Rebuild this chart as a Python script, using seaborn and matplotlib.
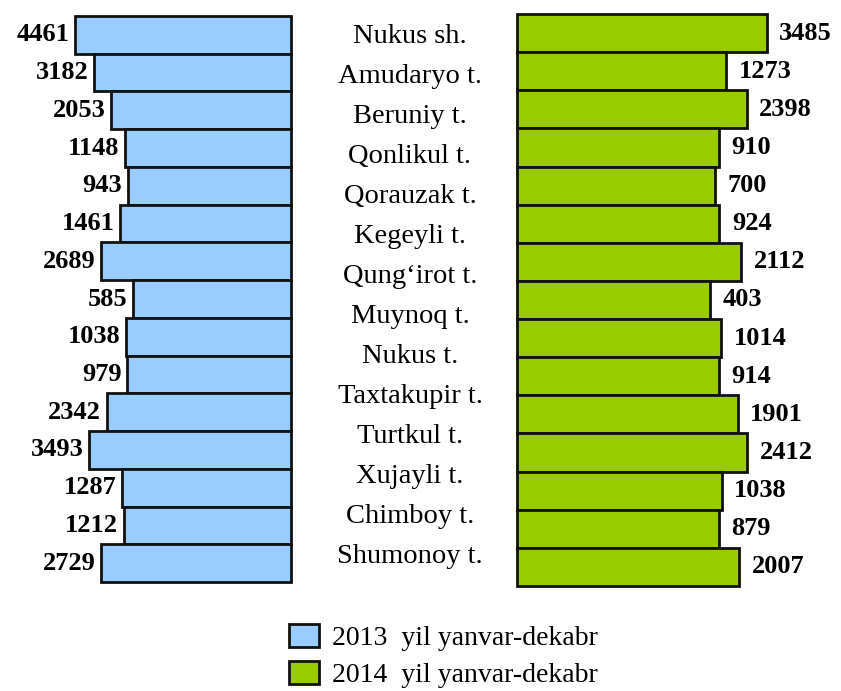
import matplotlib
matplotlib.use("Agg")
import matplotlib.pyplot as plt
from matplotlib.patches import Patch
import seaborn as sns
import pandas as pd

# ---- data -------------------------------------------------------------
district_labels = ["Nukus sh.", "Amudaryo t.", "Beruniy t.", "Qonlikul t.", "Qorauzak t.",
                   "Kegeyli t.", "Qung\u2018irot t.", "Muynoq t.", "Nukus t.", "Taxtakupir t.",
                   "Turtkul t.", "Xujayli t.", "Chimboy t.", "Shumonoy t."]
values_2013 = [4461, 3182, 2053, 1148, 943, 1461, 2689, 585, 1038, 979, 2342, 3493, 1287, 1212, 2729]
values_2014 = [3485, 1273, 2398, 910, 700, 924, 2112, 403, 1014, 914, 1901, 2412, 1038, 879, 2007]
legend_labels = ["2013  yil yanvar-dekabr", "2014  yil yanvar-dekabr"]

AXIS_MIN = -10000          # value axis starts here (as in the original chart)
COLOR_2013 = "#99CCFF"
COLOR_2014 = "#99CC00"
EDGE = "#111111"

sns.set_theme(style="white")
plt.rcParams["font.family"] = ["Liberation Serif", "DejaVu Serif"]
plt.rcParams["text.color"] = "black"

W, H = 841, 691
fig = plt.figure(figsize=(W / 100, H / 100), dpi=100)


def px_axes(x0, y0, x1, y1):
    return fig.add_axes([x0 / W, 1 - y1 / H, (x1 - x0) / W, (y1 - y0) / H])


rows = list(range(len(values_2013)))
df = pd.DataFrame({"row": rows, "v2013": values_2013, "v2014": values_2014})


def draw_panel(ax, col, color, xlim, invert, pad):
    sns.barplot(data=df, x=col, y="row", orient="y", color=color, width=1.0,
                edgecolor=EDGE, linewidth=2.0, saturation=1, ax=ax)
    cont = ax.containers[0]
    for p in cont.patches:
        w = p.get_width()
        p.set_x(AXIS_MIN)
        p.set_width(w - AXIS_MIN)
        p.set_clip_on(False)
    ax.set_xlim(*xlim)
    if invert:
        ax.invert_xaxis()
    ax.bar_label(cont, labels=[str(v) for v in df[col]], padding=pad,
                 fontsize=19, fontweight="bold", color="black")
    ax.set_ylim(len(rows) - 0.5, -0.5)
    ax.axis("off")


ax_left = px_axes(5, 16, 291, 582)
draw_panel(ax_left, "v2013", COLOR_2013, (AXIS_MIN, 9150), True, 4)

ax_right = px_axes(517, 14, 832, 586)
draw_panel(ax_right, "v2014", COLOR_2014, (AXIS_MIN, 7000), False, 9)

# centre column of district names
ax_mid = px_axes(300, 23, 520, 583)
ax_mid.set_ylim(len(district_labels) - 0.5, -0.5)
ax_mid.set_xlim(0, 1)
for i, name in enumerate(district_labels):
    ax_mid.text(0.5, i, name, ha="center", va="baseline", fontsize=20.5, color="black")
ax_mid.axis("off")

handles = [Patch(facecolor=COLOR_2013, edgecolor=EDGE, linewidth=2.0),
           Patch(facecolor=COLOR_2014, edgecolor=EDGE, linewidth=2.0)]
fig.legend(handles, legend_labels, loc="upper left",
           bbox_to_anchor=(289 / W, 1 - 624 / H), frameon=False, fontsize=20,
           labelcolor="black",
           handlelength=1.08, handleheight=0.9, handletextpad=0.45,
           labelspacing=0.36, borderpad=0, borderaxespad=0)

fig.savefig("out.png", dpi=100)
